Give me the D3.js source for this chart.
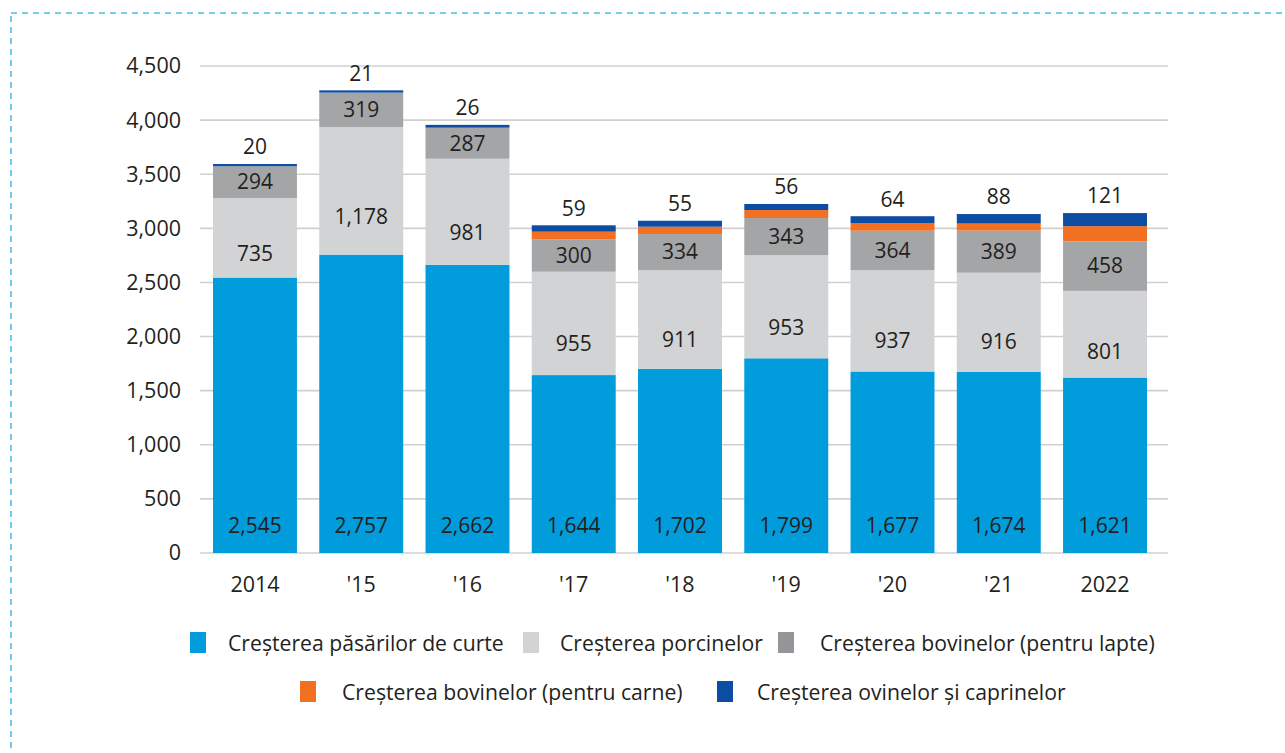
<!DOCTYPE html>
<html><head><meta charset="utf-8">
<script src="https://cdn.jsdelivr.net/npm/d3@7"></script>
<style>
html,body{margin:0;padding:0;background:#fff;}
svg{display:block;}
text{font-family:"Open Sans",Lato,sans-serif;fill:#231f20;}
</style></head>
<body><svg id="chart" width="1285" height="753"></svg>
<script>
const categories = ["2014","'15","'16","'17","'18","'19","'20","'21","2022"];
const pasari   = [2545,2757,2662,1644,1702,1799,1677,1674,1621];
const porcine  = [735,1178,981,955,911,953,937,916,801];
const lapte    = [294,319,287,300,334,343,364,389,458];
const carne    = [0,0,0,70,68,74,70,65,140];
const ovine    = [20,21,26,59,55,56,64,88,121];
const yTicks   = [0,500,1000,1500,2000,2500,3000,3500,4000,4500];
const seriesNames = ["Creșterea păsărilor de curte","Creșterea porcinelor","Creșterea bovinelor (pentru lapte)","Creșterea bovinelor (pentru carne)","Creșterea ovinelor și caprinelor"];
const seriesData = [pasari, porcine, lapte, carne, ovine];
const colors = ["#009cdc","#d1d3d4","#a4a5a7","#f36f21","#0c4da2"];
const legendColors = ["#009cdc","#d1d3d4","#939598","#f36f21","#0c4da2"];

const svg = d3.select("#chart");
const fmt = d3.format(",");
const FONT = "'Open Sans',Lato,sans-serif";

// dashed frame
svg.append("rect").attr("x",11).attr("y",13).attr("width",1300).attr("height",800)
  .attr("fill","none").attr("stroke","#4dbde9").attr("stroke-width",1.6).attr("stroke-dasharray","6,5");

const x = d3.scaleBand().domain(categories).range([196,1164]).paddingInner(0.21).paddingOuter(0.16);
const y = d3.scaleLinear().domain([0,4500]).range([553,66]);

// gridlines
svg.append("g").selectAll("line").data(yTicks).join("line")
  .attr("x1",200).attr("x2",1168).attr("y1",d=>y(d)).attr("y2",d=>y(d))
  .attr("stroke","#d0d0d0").attr("stroke-width",1.6);

// y axis
const yAxis = d3.axisLeft(y).tickValues(yTicks).tickFormat(fmt).tickSize(0).tickPadding(0);
const gy = svg.append("g").attr("transform","translate(181,0)").call(yAxis);
gy.select(".domain").remove();
gy.selectAll("text").attr("font-size",21.5).attr("fill","#231f20").attr("font-family",FONT);

// x axis
const xAxis = d3.axisBottom(x).tickSize(0).tickPadding(0);
const gx = svg.append("g").attr("transform","translate(0,577)").call(xAxis);
gx.select(".domain").remove();
gx.selectAll("text").attr("font-size",21.5).attr("fill","#231f20").attr("font-family",FONT);

// stack
const rows = categories.map((c,i)=>{const o={cat:c}; seriesData.forEach((s,k)=>o["s"+k]=s[i]); return o;});
const stack = d3.stack().keys(seriesData.map((s,k)=>"s"+k))(rows);

svg.append("g").selectAll("g").data(stack).join("g")
  .attr("fill",(d,i)=>colors[i])
  .selectAll("rect").data(d=>d).join("rect")
  .attr("x",d=>x(d.data.cat)).attr("width",x.bandwidth())
  .attr("y",d=>y(d[1])).attr("height",d=>Math.max(0,y(d[0])-y(d[1])));

// labels
const lab = svg.append("g").attr("font-size",21).attr("text-anchor","middle");
stack.forEach((layer,k)=>{
  if(k===3) return;
  layer.forEach((d,i)=>{
    const cx = x(d.data.cat)+x.bandwidth()/2;
    let cy;
    if(k===0) cy = y(0)-27;
    else if(k===1) cy = y(d[0]) - (y(d[0])-y(d[1]))*0.3;
    else if(k===2) cy = (y(d[0])+y(d[1]))/2;
    else cy = y(d[1]) - 17;
    lab.append("text").attr("x",cx).attr("y",cy).attr("dy","0.35em").text(fmt(seriesData[k][i]));
  });
});

// legend
const legendPos = [[190,643],[523,643],[778,643],[300,692],[717,692]];
const textOffset = [38,37,42,42,40];
const lg = svg.append("g");
seriesNames.forEach((n,k)=>{
  const [lx,ly] = legendPos[k];
  lg.append("rect").attr("x",lx).attr("y",ly-11).attr("width",16).attr("height",21).attr("fill",legendColors[k]);
  lg.append("text").attr("x",lx+textOffset[k]).attr("y",ly+1).attr("dy","0.35em").attr("font-size",21.2).text(n);
});
</script></body></html>
